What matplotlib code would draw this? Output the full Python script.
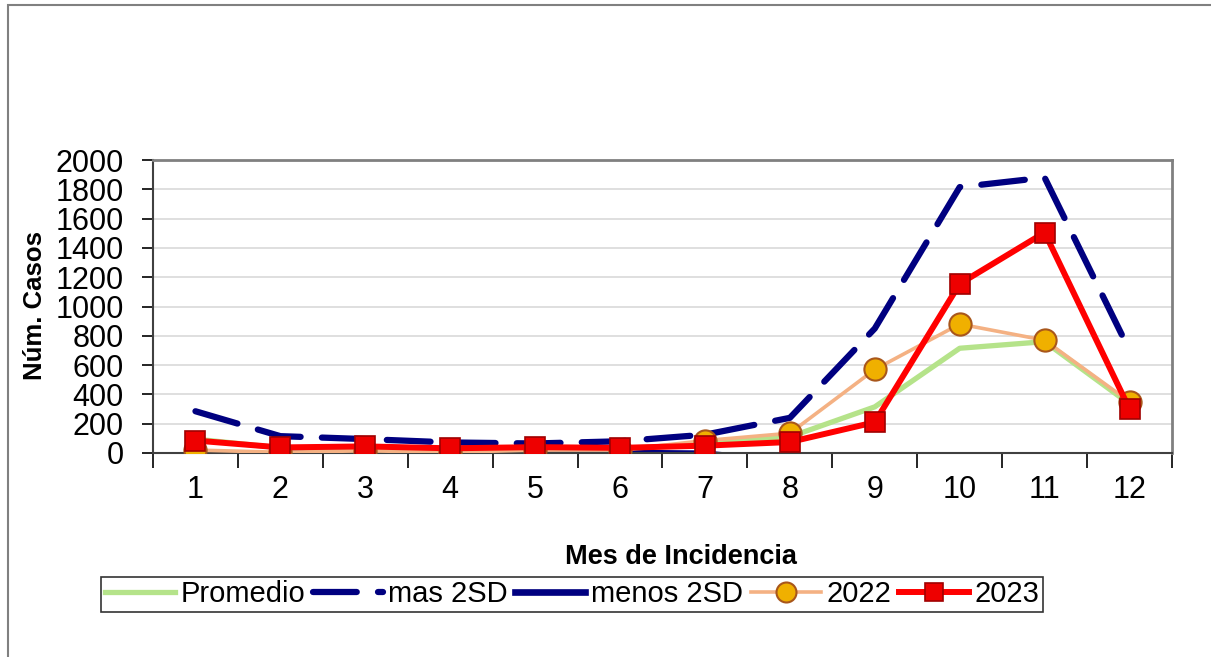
import matplotlib
matplotlib.use("Agg")
import matplotlib.pyplot as plt
from matplotlib.patches import Rectangle

plt.rcParams['font.family'] = ['Liberation Sans', 'DejaVu Sans']

# data
meses = [1, 2, 3, 4, 5, 6, 7, 8, 9, 10, 11, 12]
promedio = [95, 35, 35, 25, 30, 30, 60, 110, 315, 715, 760, 335]
mas_2sd = [285, 115, 95, 72, 65, 80, 125, 240, 850, 1815, 1880, 700]
menos_2sd = [-140, -5, 5, 0, 5, 0, -5, -60, -250, -380, -340, -100]
casos_2022 = [20, 5, 15, 5, 20, 20, 85, 135, 570, 880, 770, 350]
casos_2023 = [85, 38, 45, 32, 40, 35, 50, 75, 210, 1155, 1505, 300]

y_ticks = [0, 200, 400, 600, 800, 1000, 1200, 1400, 1600, 1800, 2000]

W, H = 1211, 657
fig = plt.figure(figsize=(W / 100, H / 100), dpi=100)

# outer chart frame
fig.patches.append(Rectangle((8 / W, -0.1), 1.2, 1.1 - 5 / H, transform=fig.transFigure,
                             fill=False, edgecolor="#808080", linewidth=1.5))

ax = fig.add_axes([153 / W, (H - 453) / H, (1172 - 153) / W, 293 / H])

ax.plot(meses, promedio, color="#B5E38A", linewidth=3.8, label="Promedio", zorder=3)
ax.plot(meses, mas_2sd, color="#000080", linewidth=4.5, dashes=(7, 3.4),
        dash_capstyle="round", label="mas 2SD", zorder=4)
ax.plot(meses, menos_2sd, color="#000080", linewidth=4.8, label="menos 2SD", zorder=2)
ax.plot(meses, casos_2022, color="#F4B183", linewidth=2.6, marker="o", markersize=16,
        markerfacecolor="#F0B000", markeredgecolor="#A8561B", markeredgewidth=1.5,
        label="2022", zorder=5)
ax.plot(meses, casos_2023, color="#FF0000", linewidth=4.3, marker="s", markersize=15,
        markerfacecolor="#EE0000", markeredgecolor="#A00000", markeredgewidth=1.2,
        label="2023", zorder=6)

ax.set_xlim(0.5, 12.5)
ax.set_ylim(0, 2000)
ax.set_yticks(y_ticks)
ax.set_xticks(meses)
ax.set_xticks([m + 0.5 for m in range(0, 13)], minor=True)
ax.tick_params(axis="x", which="major", length=0, labelsize=22, pad=16)
ax.tick_params(axis="x", which="minor", length=11, width=1.2, direction="out")
ax.tick_params(axis="y", labelsize=22, length=8, width=1.2, direction="out", pad=13)

ax.grid(True, axis="y", color="#D9D9D9", linewidth=1.2)
ax.set_axisbelow(True)
for side in ["top", "right"]:
    ax.spines[side].set_color("#808080")
    ax.spines[side].set_linewidth(2)
for side in ["left", "bottom"]:
    ax.spines[side].set_color("#404040")
    ax.spines[side].set_linewidth(1.5)

fig.text(35 / W, 1 - 306 / H, "Núm. Casos", fontsize=18.5, fontweight="bold",
         rotation=90, ha="center", va="center")
fig.text(681 / W, 1 - 557 / H, "Mes de Incidencia", fontsize=19.5, fontweight="bold",
         ha="center", va="center")

leg = fig.legend(loc="center", bbox_to_anchor=(572 / W, 1 - 594 / H), ncol=5,
                 fontsize=21, frameon=True, fancybox=False, handlelength=2.4,
                 handletextpad=0.2, columnspacing=0.25, borderpad=0.12,
                 borderaxespad=0, markerscale=0.9)
leg.get_frame().set_edgecolor("#000000")
leg.get_frame().set_linewidth(1.2)

fig.savefig("out.png", dpi=100)
